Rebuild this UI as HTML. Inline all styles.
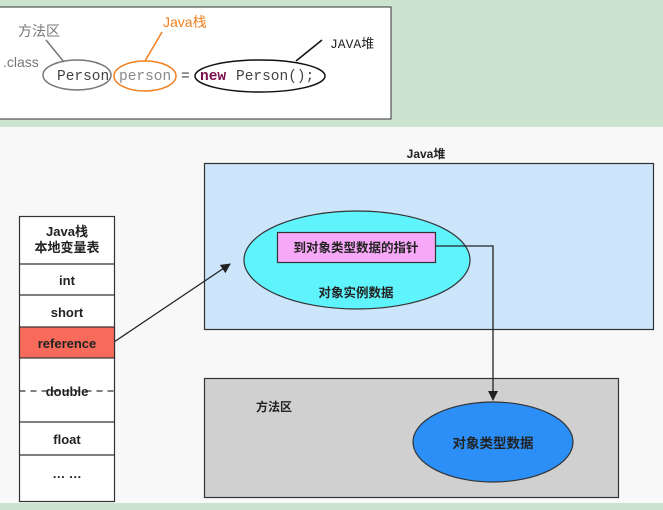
<!DOCTYPE html>
<html><head><meta charset="utf-8"><style>
body{margin:0;width:663px;height:510px;overflow:hidden;background:#cce3d0;}
</style></head><body>
<svg width="663" height="510" xmlns="http://www.w3.org/2000/svg" style="position:absolute;left:0;top:0">
<defs><marker id="ah" markerWidth="10" markerHeight="10" refX="9" refY="5" orient="auto" markerUnits="userSpaceOnUse"><path d="M0,0 L10,5 L0,10 z" fill="#222"/></marker></defs>
<rect x="0" y="0" width="663" height="510" fill="#cce3d0"/>
<rect x="-1" y="7" width="392" height="112" fill="#fff" stroke="#333" stroke-width="1"/>
<rect x="0" y="127" width="663" height="376" fill="#f8f8f8"/>
<g font-family="Liberation Sans, Noto Sans CJK SC, sans-serif">
<text x="18" y="36" font-size="14" fill="#777">方法区</text>
<text x="3" y="67" font-size="14" fill="#777">.class</text>
<line x1="46" y1="40" x2="64" y2="62" stroke="#777" stroke-width="1.5"/>
<ellipse cx="77" cy="75" rx="34" ry="15" fill="none" stroke="#777" stroke-width="1.5"/>
<text x="163" y="27" font-size="14" fill="#f08020">Java栈</text>
<line x1="162" y1="32" x2="145" y2="61" stroke="#f08020" stroke-width="1.5"/>
<ellipse cx="145" cy="76" rx="31" ry="15" fill="none" stroke="#f08020" stroke-width="1.5"/>
<text x="330" y="48" font-size="13" fill="#222" font-family="Liberation Mono, Noto Sans CJK SC, monospace">JAVA堆</text>
<line x1="322" y1="40" x2="296" y2="61" stroke="#111" stroke-width="1.5"/>
<ellipse cx="260" cy="76" rx="65" ry="16" fill="none" stroke="#111" stroke-width="1.5"/>
<g font-family="Liberation Mono, monospace" font-size="14.5">
<text x="57" y="80" fill="#444">Person</text>
<text x="119" y="80" fill="#888">person</text>
<text x="181" y="80" fill="#444">=</text>
<text x="200" y="80" fill="#7a0a4a" font-weight="bold">new</text>
<text x="236" y="80" fill="#444">Person();</text>
</g>
<text x="426" y="158" font-size="12" font-weight="bold" text-anchor="middle" fill="#222">Java堆</text>
<rect x="204.5" y="163.5" width="449" height="166" fill="#cce5fb" stroke="#333" stroke-width="1.2"/>
<rect x="204.5" y="378.5" width="414" height="119" fill="#d0d0d0" stroke="#333" stroke-width="1.2"/>
<text x="274" y="411" font-size="12" font-weight="bold" text-anchor="middle" fill="#222">方法区</text>
<ellipse cx="357" cy="260" rx="113" ry="49" fill="#5ff3fb" stroke="#333" stroke-width="1.2"/>
<rect x="277.5" y="232.5" width="158" height="30" fill="#f8a8f8" stroke="#333" stroke-width="1.2"/>
<text x="356" y="252" font-size="12.5" font-weight="bold" text-anchor="middle" fill="#222">到对象类型数据的指针</text>
<text x="356" y="297" font-size="12.5" font-weight="bold" text-anchor="middle" fill="#222">对象实例数据</text>
<ellipse cx="493" cy="442" rx="80" ry="40" fill="#2b8ff7" stroke="#333" stroke-width="1.2"/>
<text x="493" y="448" font-size="13.5" font-weight="bold" text-anchor="middle" fill="#222">对象类型数据</text>
<polyline points="436,246 493,246 493,400" fill="none" stroke="#222" stroke-width="1.3" marker-end="url(#ah)"/>
<line x1="114" y1="342" x2="230" y2="264" stroke="#222" stroke-width="1.3" marker-end="url(#ah)"/>
<g stroke="#333" stroke-width="1.2">
<rect x="19.5" y="216.5" width="95" height="285" fill="#fff"/>
<rect x="19.5" y="327" width="95" height="31" fill="#f86a5a"/>
<line x1="19.5" y1="264" x2="114.5" y2="264"/>
<line x1="19.5" y1="295" x2="114.5" y2="295"/>
<line x1="19.5" y1="422" x2="114.5" y2="422"/>
<line x1="19.5" y1="455" x2="114.5" y2="455"/>
<line x1="19.5" y1="391" x2="114.5" y2="391" stroke-dasharray="6,5"/>
</g>
<g font-size="13" font-weight="bold" text-anchor="middle" fill="#222">
<text x="67" y="236">Java栈</text>
<text x="67" y="252">本地变量表</text>
<text x="67" y="285">int</text>
<text x="67" y="317">short</text>
<text x="67" y="348">reference</text>
<text x="67" y="396">double</text>
<text x="67" y="444">float</text>
<text x="67" y="478">… …</text>
</g>
</g>
</svg>
</body></html>
